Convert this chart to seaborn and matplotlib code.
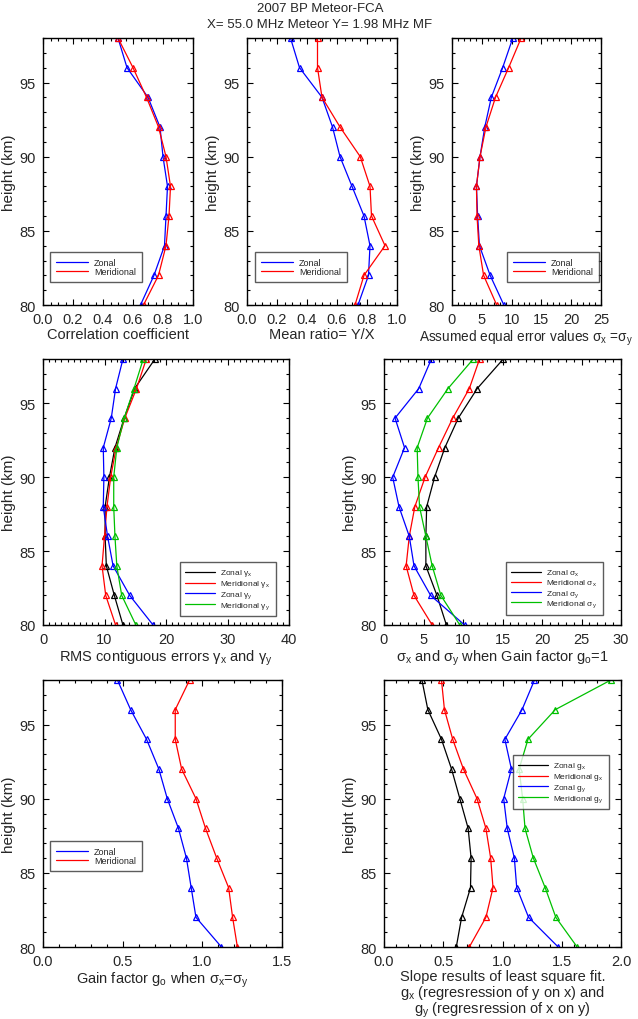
import numpy as np
import pandas as pd
import matplotlib
matplotlib.use("Agg")
import matplotlib.pyplot as plt
from matplotlib.ticker import MultipleLocator
import seaborn as sns

# ---------------- data ----------------
heights = [98, 96, 94, 92, 90, 88, 86, 84, 82, 80]

corr_zonal = [0.50, 0.56, 0.70, 0.78, 0.80, 0.83, 0.82, 0.81, 0.74, 0.65]
corr_merid = [0.50, 0.60, 0.69, 0.77, 0.82, 0.85, 0.84, 0.82, 0.77, 0.67]

ratio_zonal = [0.29, 0.35, 0.50, 0.57, 0.62, 0.70, 0.78, 0.82, 0.81, 0.74]
ratio_merid = [0.47, 0.47, 0.50, 0.62, 0.755, 0.82, 0.83, 0.92, 0.78, 0.72]

err_zonal = [10.2, 8.5, 6.6, 5.5, 4.7, 4.1, 4.3, 4.6, 6.4, 8.7]
err_merid = [11.6, 9.5, 7.3, 5.7, 4.7, 4.1, 4.2, 4.5, 5.3, 7.5]

rms_zonal_gx = [18.2, 14.9, 13.2, 11.7, 10.8, 10.1, 10.1, 10.3, 11.6, 13.0]
rms_merid_gx = [16.8, 15.2, 13.3, 11.9, 11.0, 10.4, 10.0, 9.6, 10.2, 11.8]
rms_zonal_gy = [13.0, 11.8, 11.1, 9.8, 9.9, 9.8, 10.5, 11.4, 14.1, 17.9]
rms_merid_gy = [16.3, 14.8, 13.2, 12.0, 11.5, 11.5, 11.7, 12.0, 12.8, 15.1]

sig_zonal_x = [15.1, 11.8, 9.4, 7.7, 6.4, 5.4, 5.3, 5.3, 6.7, 7.9]
sig_merid_x = [12.1, 10.8, 8.7, 6.9, 5.2, 3.9, 3.2, 2.8, 3.8, 6.1]
sig_zonal_y = [6.0, 4.4, 1.4, 2.6, 1.1, 1.9, 3.2, 3.8, 5.9, 10.2]
sig_merid_y = [11.3, 8.1, 5.5, 4.2, 4.3, 4.5, 5.3, 6.1, 7.2, 9.6]

gain_zonal = [0.467, 0.55, 0.65, 0.727, 0.78, 0.85, 0.90, 0.93, 0.96, 1.12]
gain_merid = [0.92, 0.83, 0.83, 0.87, 0.96, 1.02, 1.09, 1.165, 1.19, 1.22]

slope_zonal_gx = [0.32, 0.37, 0.485, 0.57, 0.64, 0.71, 0.735, 0.73, 0.655, 0.61]
slope_merid_gx = [0.485, 0.51, 0.58, 0.67, 0.785, 0.86, 0.90, 0.92, 0.86, 0.72]
slope_zonal_gy = [1.27, 1.165, 1.02, 1.075, 1.01, 1.04, 1.10, 1.12, 1.22, 1.47]
slope_merid_gy = [1.915, 1.445, 1.215, 1.14, 1.17, 1.19, 1.26, 1.36, 1.45, 1.63]

title_lines = ["2007 BP Meteor-FCA", "X= 55.0 MHz Meteor Y= 1.98 MHz MF"]

# ---------------- style ----------------
sns.set_theme(style="white")
plt.rcParams["font.family"] = ["Liberation Sans", "DejaVu Sans"]
plt.rcParams["mathtext.fontset"] = "custom"
plt.rcParams["mathtext.rm"] = "Liberation Sans"
plt.rcParams["mathtext.it"] = "Liberation Sans"
plt.rcParams["mathtext.default"] = "rm"

BLUE = "#0000ff"
RED = "#ff0000"
GREEN = "#00c000"
BLACK = "#000000"

W, H = 638, 1020
fig = plt.figure(figsize=(W / 100, H / 100), dpi=100)


def make_ax(x0, x1, y0, y1):
    return fig.add_axes([x0 / W, 1 - y1 / H, (x1 - x0) / W, (y1 - y0) / H])


def draw(ax, series, xlim, xmaj, xmin, xlabel, leg_xy, leg_fs=6.5,
         xlabel_fs=10.5, linespacing=1.2):
    for vals, color, label in series:
        df = pd.DataFrame({"v": vals, "h": heights})
        sns.lineplot(data=df, x="v", y="h", sort=False, estimator=None, ax=ax,
                     color=color, lw=0.9, marker="^", markersize=4.8,
                     markerfacecolor="none", markeredgecolor=color,
                     markeredgewidth=0.9, label=label)
    ax.set_xlim(*xlim)
    ax.set_ylim(80, 98)
    ax.xaxis.set_major_locator(MultipleLocator(xmaj))
    ax.xaxis.set_minor_locator(MultipleLocator(xmin))
    ax.yaxis.set_major_locator(MultipleLocator(5))
    ax.yaxis.set_minor_locator(MultipleLocator(1))
    ax.tick_params(which="both", direction="in", top=True, right=True,
                   bottom=True, left=True, color="black", width=0.8)
    ax.tick_params(which="major", length=4.5, labelsize=10.5, pad=5)
    ax.tick_params(which="minor", length=2.2)
    for s in ax.spines.values():
        s.set_color("black")
        s.set_linewidth(1.0)
    ax.set_xlabel(xlabel, fontsize=xlabel_fs, labelpad=1,
                  linespacing=linespacing)
    ax.set_ylabel("height (km)", fontsize=11, labelpad=3)
    bx0, by0 = leg_xy
    leg = ax.legend(loc="upper left", bbox_to_anchor=(bx0 / W, 1 - by0 / H),
                    bbox_transform=fig.transFigure, fontsize=leg_fs,
                    frameon=True, fancybox=False, handlelength=3.6,
                    handletextpad=0.6, borderpad=0.65, labelspacing=0.0,
                    borderaxespad=0)
    fr = leg.get_frame()
    fr.set_edgecolor("#333333")
    fr.set_linewidth(1.0)
    for hd in leg.legend_handles:
        hd.set_marker("")


# Top row
ax1 = make_ax(43, 193, 39, 306)
draw(ax1, [(corr_zonal, BLUE, "Zonal"), (corr_merid, RED, "Meridional")],
     (0, 1), 0.2, 0.05, "Correlation coefficient", (50, 253))
ax1.set_xticks([0, 0.2, 0.4, 0.6, 0.8, 1.0])
ax1.set_xticklabels(["0.0", "0.2", "0.4", "0.6", "0.8", "1.0"])

ax2 = make_ax(247, 397, 39, 306)
draw(ax2, [(ratio_zonal, BLUE, "Zonal"), (ratio_merid, RED, "Meridional")],
     (0, 1), 0.2, 0.05, "Mean ratio= Y/X", (255, 253))
ax2.set_xticks([0, 0.2, 0.4, 0.6, 0.8, 1.0])
ax2.set_xticklabels(["0.0", "0.2", "0.4", "0.6", "0.8", "1.0"])

ax3 = make_ax(452, 601, 39, 306)
draw(ax3, [(err_zonal, BLUE, "Zonal"), (err_merid, RED, "Meridional")],
     (0, 25), 5, 1, r"Assumed equal error values $\sigma_x$ =$\sigma_y$",
     (507, 253), xlabel_fs=9.8)

# Middle row
ax4 = make_ax(43, 289, 360, 626)
draw(ax4, [(rms_zonal_gx, BLACK, r"Zonal $\gamma_x$"),
           (rms_merid_gx, RED, r"Meridional $\gamma_x$"),
           (rms_zonal_gy, BLUE, r"Zonal $\gamma_y$"),
           (rms_merid_gy, GREEN, r"Meridional $\gamma_y$")],
     (0, 40), 10, 1, r"RMS contiguous errors $\gamma_x$ and $\gamma_y$",
     (180, 563), leg_fs=6.0)

ax5 = make_ax(384, 621, 360, 626)
draw(ax5, [(sig_zonal_x, BLACK, r"Zonal $\sigma_x$"),
           (sig_merid_x, RED, r"Meridional $\sigma_x$"),
           (sig_zonal_y, BLUE, r"Zonal $\sigma_y$"),
           (sig_merid_y, GREEN, r"Meridional $\sigma_y$")],
     (0, 30), 5, 1, r"$\sigma_x$ and $\sigma_y$ when Gain factor g$_o$=1",
     (506, 563), leg_fs=6.0)

# Bottom row
ax6 = make_ax(43, 282, 681, 948)
draw(ax6, [(gain_zonal, BLUE, "Zonal"), (gain_merid, RED, "Meridional")],
     (0, 1.5), 0.5, 0.1, r"Gain factor g$_o$ when $\sigma_x$=$\sigma_y$",
     (50, 842))
ax6.set_xticks([0, 0.5, 1.0, 1.5])
ax6.set_xticklabels(["0.0", "0.5", "1.0", "1.5"])

ax7 = make_ax(384, 621, 681, 948)
draw(ax7, [(slope_zonal_gx, BLACK, r"Zonal g$_x$"),
           (slope_merid_gx, RED, r"Meridional g$_x$"),
           (slope_zonal_gy, BLUE, r"Zonal g$_y$"),
           (slope_merid_gy, GREEN, r"Meridional g$_y$")],
     (0, 2), 0.5, 0.1,
     "Slope results of least square fit.\n"
     r"g$_x$ (regresression of y on x) and" "\n"
     r"g$_y$ (regresression of x on y)",
     (513, 756), leg_fs=6.0, linespacing=0.95)
ax7.set_xticks([0, 0.5, 1.0, 1.5, 2.0])
ax7.set_xticklabels(["0.0", "0.5", "1.0", "1.5", "2.0"])

fig.text(320 / W, 1 - 9 / H, title_lines[0], ha="center", va="center", fontsize=9.5)
fig.text(320 / W, 1 - 25 / H, title_lines[1], ha="center", va="center", fontsize=9.5)

fig.savefig("out.png", dpi=100, facecolor="white")
